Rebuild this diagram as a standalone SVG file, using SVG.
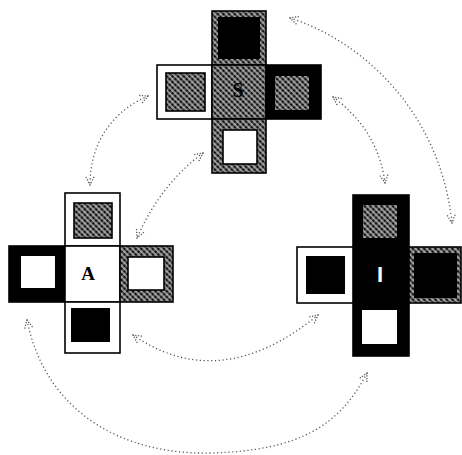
<svg xmlns="http://www.w3.org/2000/svg" width="462" height="455" viewBox="0 0 462 455">
<defs>
<pattern id="hatch" width="4" height="4" patternUnits="userSpaceOnUse" patternTransform="rotate(45)">
<rect width="4" height="4" fill="#111"/>
<line x1="0" y1="2" x2="4" y2="2" stroke="#fff" stroke-width="1.0"/>
<line x1="2" y1="0" x2="2" y2="4" stroke="#fff" stroke-width="0.5"/>
</pattern>
<marker id="head" viewBox="0 0 10 10" refX="9" refY="5" markerWidth="10" markerHeight="10" markerUnits="userSpaceOnUse" orient="auto-start-reverse">
<path d="M1,1 L9,5 L1,9" fill="none" stroke="#555" stroke-width="1.3" stroke-dasharray="1.2 1.6"/>
</marker>
</defs>
<style>
.c{stroke:#000;stroke-width:1.6}
.w{fill:#fff}
.b{fill:#000}
.h{fill:url(#hatch)}
.arr{fill:none;stroke:#555;stroke-width:1.3;stroke-dasharray:1.2 2.6;marker-start:url(#head);marker-end:url(#head)}
.ser{font-family:"Liberation Serif",serif;font-weight:bold;text-anchor:middle}
</style>
<rect width="462" height="455" fill="#fff"/>

<g id="connectors">
<path class="arr" d="M148,96 C115,110 90,140 90,185"/>
<path class="arr" d="M203,153 Q160,185 137,238"/>
<path class="arr" d="M333,97 Q378,130 385,183"/>
<path class="arr" d="M290,18 C360,40 440,110 452,223"/>
<path class="arr" d="M133,335 Q220,395 318,315"/>
<path class="arr" d="M27,320 C45,410 120,455 210,453 S340,425 367,373"/>
</g>

<g id="cube-S">
<rect class="c h" x="212" y="11" width="54" height="54"/>
<rect class="b" x="218" y="17" width="42" height="42"/>
<rect class="c w" x="157" y="65" width="55" height="54"/>
<rect class="c h" x="166" y="73" width="39" height="38"/>
<rect class="c h" x="212" y="65" width="54" height="54"/>
<rect class="c b" x="266" y="65" width="55" height="54"/>
<rect class="h" x="275" y="76" width="34" height="34"/>
<rect class="c h" x="212" y="119" width="54" height="54"/>
<rect class="c w" x="223" y="130" width="34" height="34"/>
<text class="ser" x="238" y="97" font-size="20" fill="#000">S</text>
</g>

<g id="cube-A">
<rect class="c w" x="65" y="193" width="55" height="53"/>
<rect class="c h" x="74" y="203" width="38" height="35"/>
<rect class="c b" x="9" y="246" width="56" height="56"/>
<rect class="w" x="21" y="256" width="34" height="32"/>
<rect class="c w" x="65" y="246" width="55" height="56"/>
<rect class="c h" x="120" y="246" width="53" height="56"/>
<rect class="c w" x="128" y="257" width="36" height="33"/>
<rect class="c w" x="65" y="302" width="55" height="51"/>
<rect class="b" x="71" y="308" width="39" height="34"/>
<text class="ser" x="88" y="280" font-size="19" fill="#000">A</text>
</g>

<g id="cube-I">
<rect class="c b" x="353" y="195" width="56" height="161"/>
<rect class="h" x="363" y="205" width="34" height="33"/>
<rect class="w" x="362" y="310" width="35" height="34"/>
<rect class="c w" x="297" y="247" width="56" height="56"/>
<rect class="b" x="306" y="256" width="39" height="38"/>
<rect class="c h" x="409" y="247" width="52" height="56"/>
<rect class="b" x="414" y="253" width="43" height="45"/>
<text x="380" y="282" font-family="Liberation Sans, sans-serif" font-weight="bold" font-size="22" text-anchor="middle" fill="#fff">I</text>
</g>
</svg>
